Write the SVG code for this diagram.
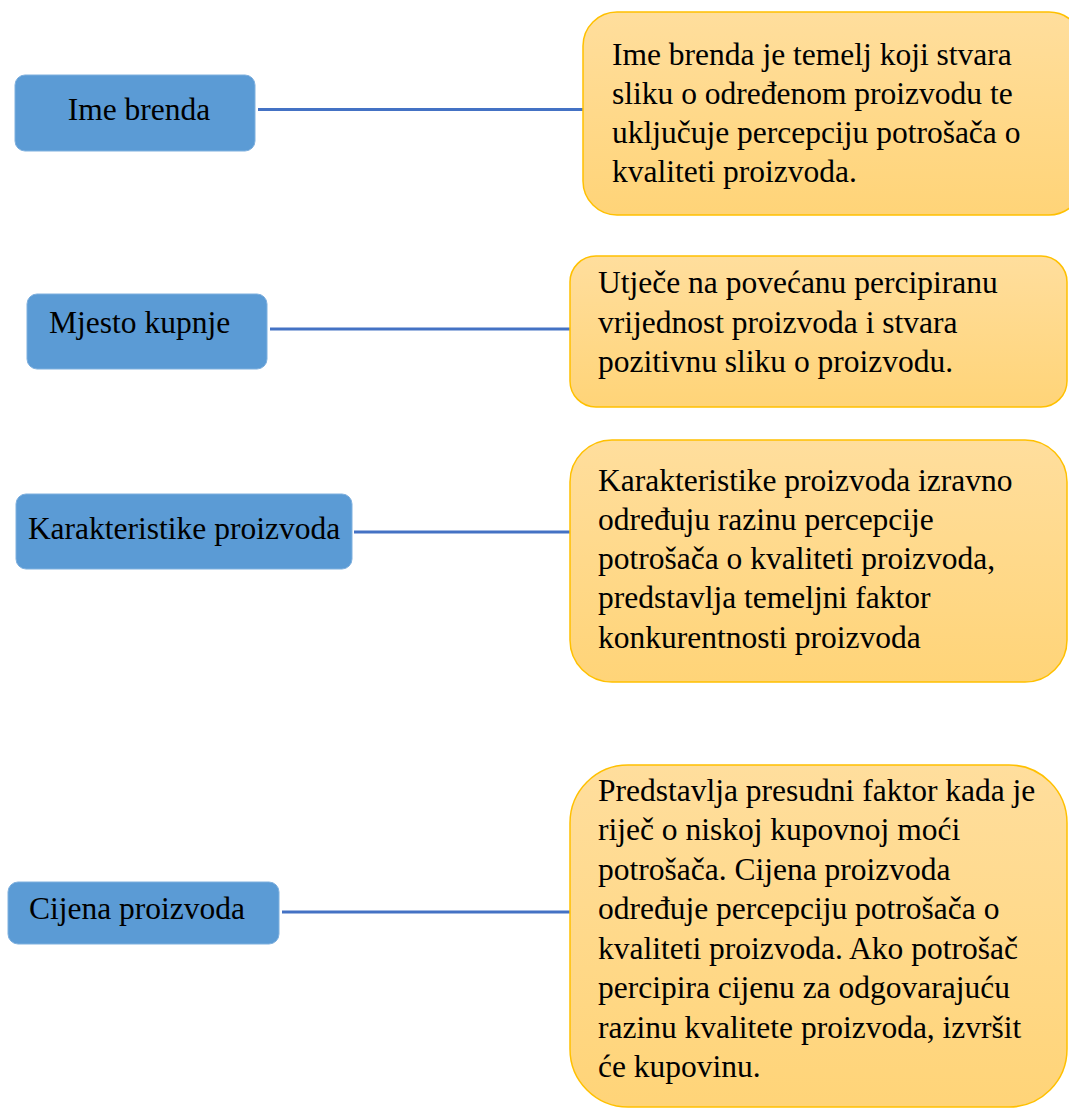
<svg xmlns="http://www.w3.org/2000/svg" width="1069" height="1109" viewBox="0 0 1069 1109">
<defs>
<linearGradient id="gold" x1="0" y1="0" x2="0" y2="1">
<stop offset="0" stop-color="#FFDE9D"/>
<stop offset="1" stop-color="#FFD478"/>
</linearGradient>
</defs>
<style>
.blue{fill:#5B9BD5;stroke:#7FB0DE;stroke-width:1}
.gold{fill:url(#gold);stroke:#FFC000;stroke-width:1.5}
.conn{stroke:#4472C4;stroke-width:3;fill:none}
text{font-family:"Liberation Serif","Times New Roman",serif;font-size:31.5px;fill:#000}
</style>
<rect width="1069" height="1109" fill="#fff"/>
<g id="connectors">
<line class="conn" x1="258" y1="109.5" x2="583" y2="109.5"/>
<line class="conn" x1="270" y1="329" x2="571" y2="329"/>
<line class="conn" x1="354" y1="532" x2="571" y2="532"/>
<line class="conn" x1="282" y1="912" x2="571" y2="912"/>
</g>
<g id="n-ime-brenda">
<rect class="blue" x="15" y="75" width="240" height="76" rx="10"/>
<text x="139" y="120" text-anchor="middle">Ime brenda</text>
</g>
<g id="n-mjesto-kupnje">
<rect class="blue" x="27" y="294" width="240" height="75" rx="10"/>
<text x="49" y="333">Mjesto kupnje</text>
</g>
<g id="n-karakteristike">
<rect class="blue" x="16" y="494" width="336" height="75" rx="10"/>
<text x="184" y="539" text-anchor="middle">Karakteristike proizvoda</text>
</g>
<g id="n-cijena">
<rect class="blue" x="8" y="882" width="271" height="62" rx="10"/>
<text x="29" y="919">Cijena proizvoda</text>
</g>
<g id="d-ime-brenda">
<rect class="gold" x="583" y="12" width="500" height="203" rx="34"/>
<text x="612" y="65">Ime brenda je temelj koji stvara</text>
<text x="612" y="104">sliku o određenom proizvodu te</text>
<text x="612" y="143">uključuje percepciju potrošača o</text>
<text x="612" y="182">kvaliteti proizvoda.</text>
</g>
<g id="d-mjesto-kupnje">
<rect class="gold" x="570" y="256" width="497" height="151" rx="26"/>
<text x="598" y="293">Utječe na povećanu percipiranu</text>
<text x="598" y="333">vrijednost proizvoda i stvara</text>
<text x="598" y="372">pozitivnu sliku o proizvodu.</text>
</g>
<g id="d-karakteristike">
<rect class="gold" x="570" y="440" width="497" height="242" rx="42"/>
<text x="598" y="491">Karakteristike proizvoda izravno</text>
<text x="598" y="530">određuju razinu percepcije</text>
<text x="598" y="569">potrošača o kvaliteti proizvoda,</text>
<text x="598" y="608">predstavlja temeljni faktor</text>
<text x="598" y="648">konkurentnosti proizvoda</text>
</g>
<g id="d-cijena">
<rect class="gold" x="570" y="765" width="497" height="342" rx="58"/>
<text x="598" y="801">Predstavlja presudni faktor kada je</text>
<text x="598" y="840">riječ o niskoj kupovnoj moći</text>
<text x="598" y="880">potrošača. Cijena proizvoda</text>
<text x="598" y="919">određuje percepciju potrošača o</text>
<text x="598" y="959">kvaliteti proizvoda. Ako potrošač</text>
<text x="598" y="998">percipira cijenu za odgovarajuću</text>
<text x="598" y="1038">razinu kvalitete proizvoda, izvršit</text>
<text x="598" y="1077">će kupovinu.</text>
</g>
</svg>
